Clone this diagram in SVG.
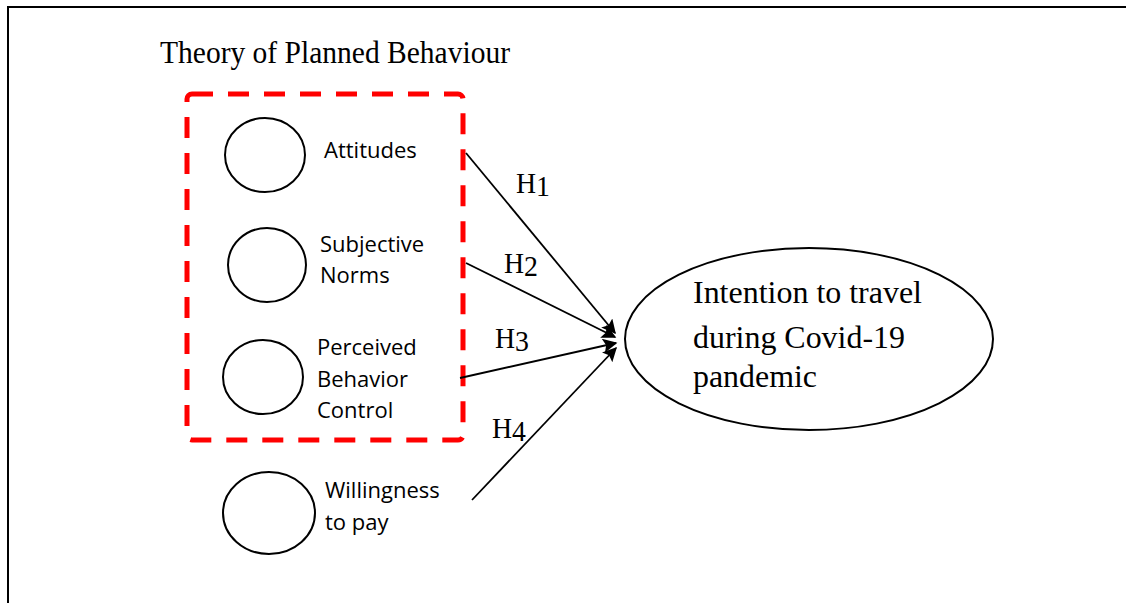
<svg xmlns="http://www.w3.org/2000/svg" width="1126" height="603" viewBox="0 0 1126 603">
<style>
.serif{font-family:"Liberation Serif","Times New Roman",serif;fill:#000}
.sans{font-family:"Open Sans","Liberation Sans",sans-serif;font-size:22px;fill:#000}
.node{fill:#fff;stroke:#000;stroke-width:2}
.conn{stroke:#000;stroke-width:1.8;fill:none}
.h{font-size:30px}
.big{font-size:31px}
</style>
<defs>
<marker id="arr" viewBox="0 0 10 10" refX="9" refY="5" markerWidth="9" markerHeight="8" markerUnits="strokeWidth" orient="auto">
<path d="M0,0 L10,5 L0,10 L2,5 z" fill="#000"/>
</marker>
</defs>
<rect width="1126" height="603" fill="#fff"/>
<g id="frame">
<path d="M8,603 L8,7 L1126,7" fill="none" stroke="#000" stroke-width="2"/>
</g>
<text class="serif" x="160" y="63" font-size="31" textLength="350" lengthAdjust="spacingAndGlyphs">Theory of Planned Behaviour</text>
<g id="tpb-group">
<rect x="187" y="94" width="276" height="346" rx="5" fill="none" stroke="#ff0000" stroke-width="5" stroke-dasharray="21,15"/>
</g>
<g id="attitudes">
<ellipse class="node" cx="265" cy="155" rx="40" ry="37"/>
<text class="sans" x="324" y="158">Attitudes</text>
</g>
<g id="subjective-norms">
<ellipse class="node" cx="267" cy="265" rx="39" ry="37"/>
<text class="sans" x="320" y="252">Subjective</text>
<text class="sans" x="320" y="283">Norms</text>
</g>
<g id="perceived-behavior-control">
<ellipse class="node" cx="263" cy="377" rx="40" ry="37"/>
<text class="sans" x="317" y="355">Perceived</text>
<text class="sans" x="317" y="387">Behavior</text>
<text class="sans" x="317" y="418">Control</text>
</g>
<g id="willingness-to-pay">
<ellipse class="node" cx="269" cy="513" rx="46" ry="41"/>
<text class="sans" x="325" y="498">Willingness</text>
<text class="sans" x="325" y="530">to pay</text>
</g>
<g id="intention">
<ellipse class="node" cx="809" cy="339" rx="184" ry="91"/>
<text class="serif big" x="693" y="303" textLength="229" lengthAdjust="spacingAndGlyphs">Intention to travel</text>
<text class="serif big" x="693" y="348" textLength="212" lengthAdjust="spacingAndGlyphs">during Covid-19</text>
<text class="serif big" x="693" y="387" textLength="124" lengthAdjust="spacingAndGlyphs">pandemic</text>
</g>
<g id="connectors">
<line class="conn" x1="466" y1="153" x2="615" y2="333" marker-end="url(#arr)"/>
<line class="conn" x1="466" y1="263" x2="615" y2="337" marker-end="url(#arr)"/>
<line class="conn" x1="460" y1="378" x2="616" y2="343" marker-end="url(#arr)"/>
<line class="conn" x1="472" y1="500" x2="616" y2="348" marker-end="url(#arr)"/>
<text class="serif h" x="516" y="193" textLength="34" lengthAdjust="spacingAndGlyphs">H<tspan dy="3">1</tspan></text>
<text class="serif h" x="504" y="273" textLength="34" lengthAdjust="spacingAndGlyphs">H<tspan dy="3">2</tspan></text>
<text class="serif h" x="495" y="348" textLength="34" lengthAdjust="spacingAndGlyphs">H<tspan dy="3">3</tspan></text>
<text class="serif h" x="492" y="438" textLength="34" lengthAdjust="spacingAndGlyphs">H<tspan dy="3">4</tspan></text>
</g>
</svg>
